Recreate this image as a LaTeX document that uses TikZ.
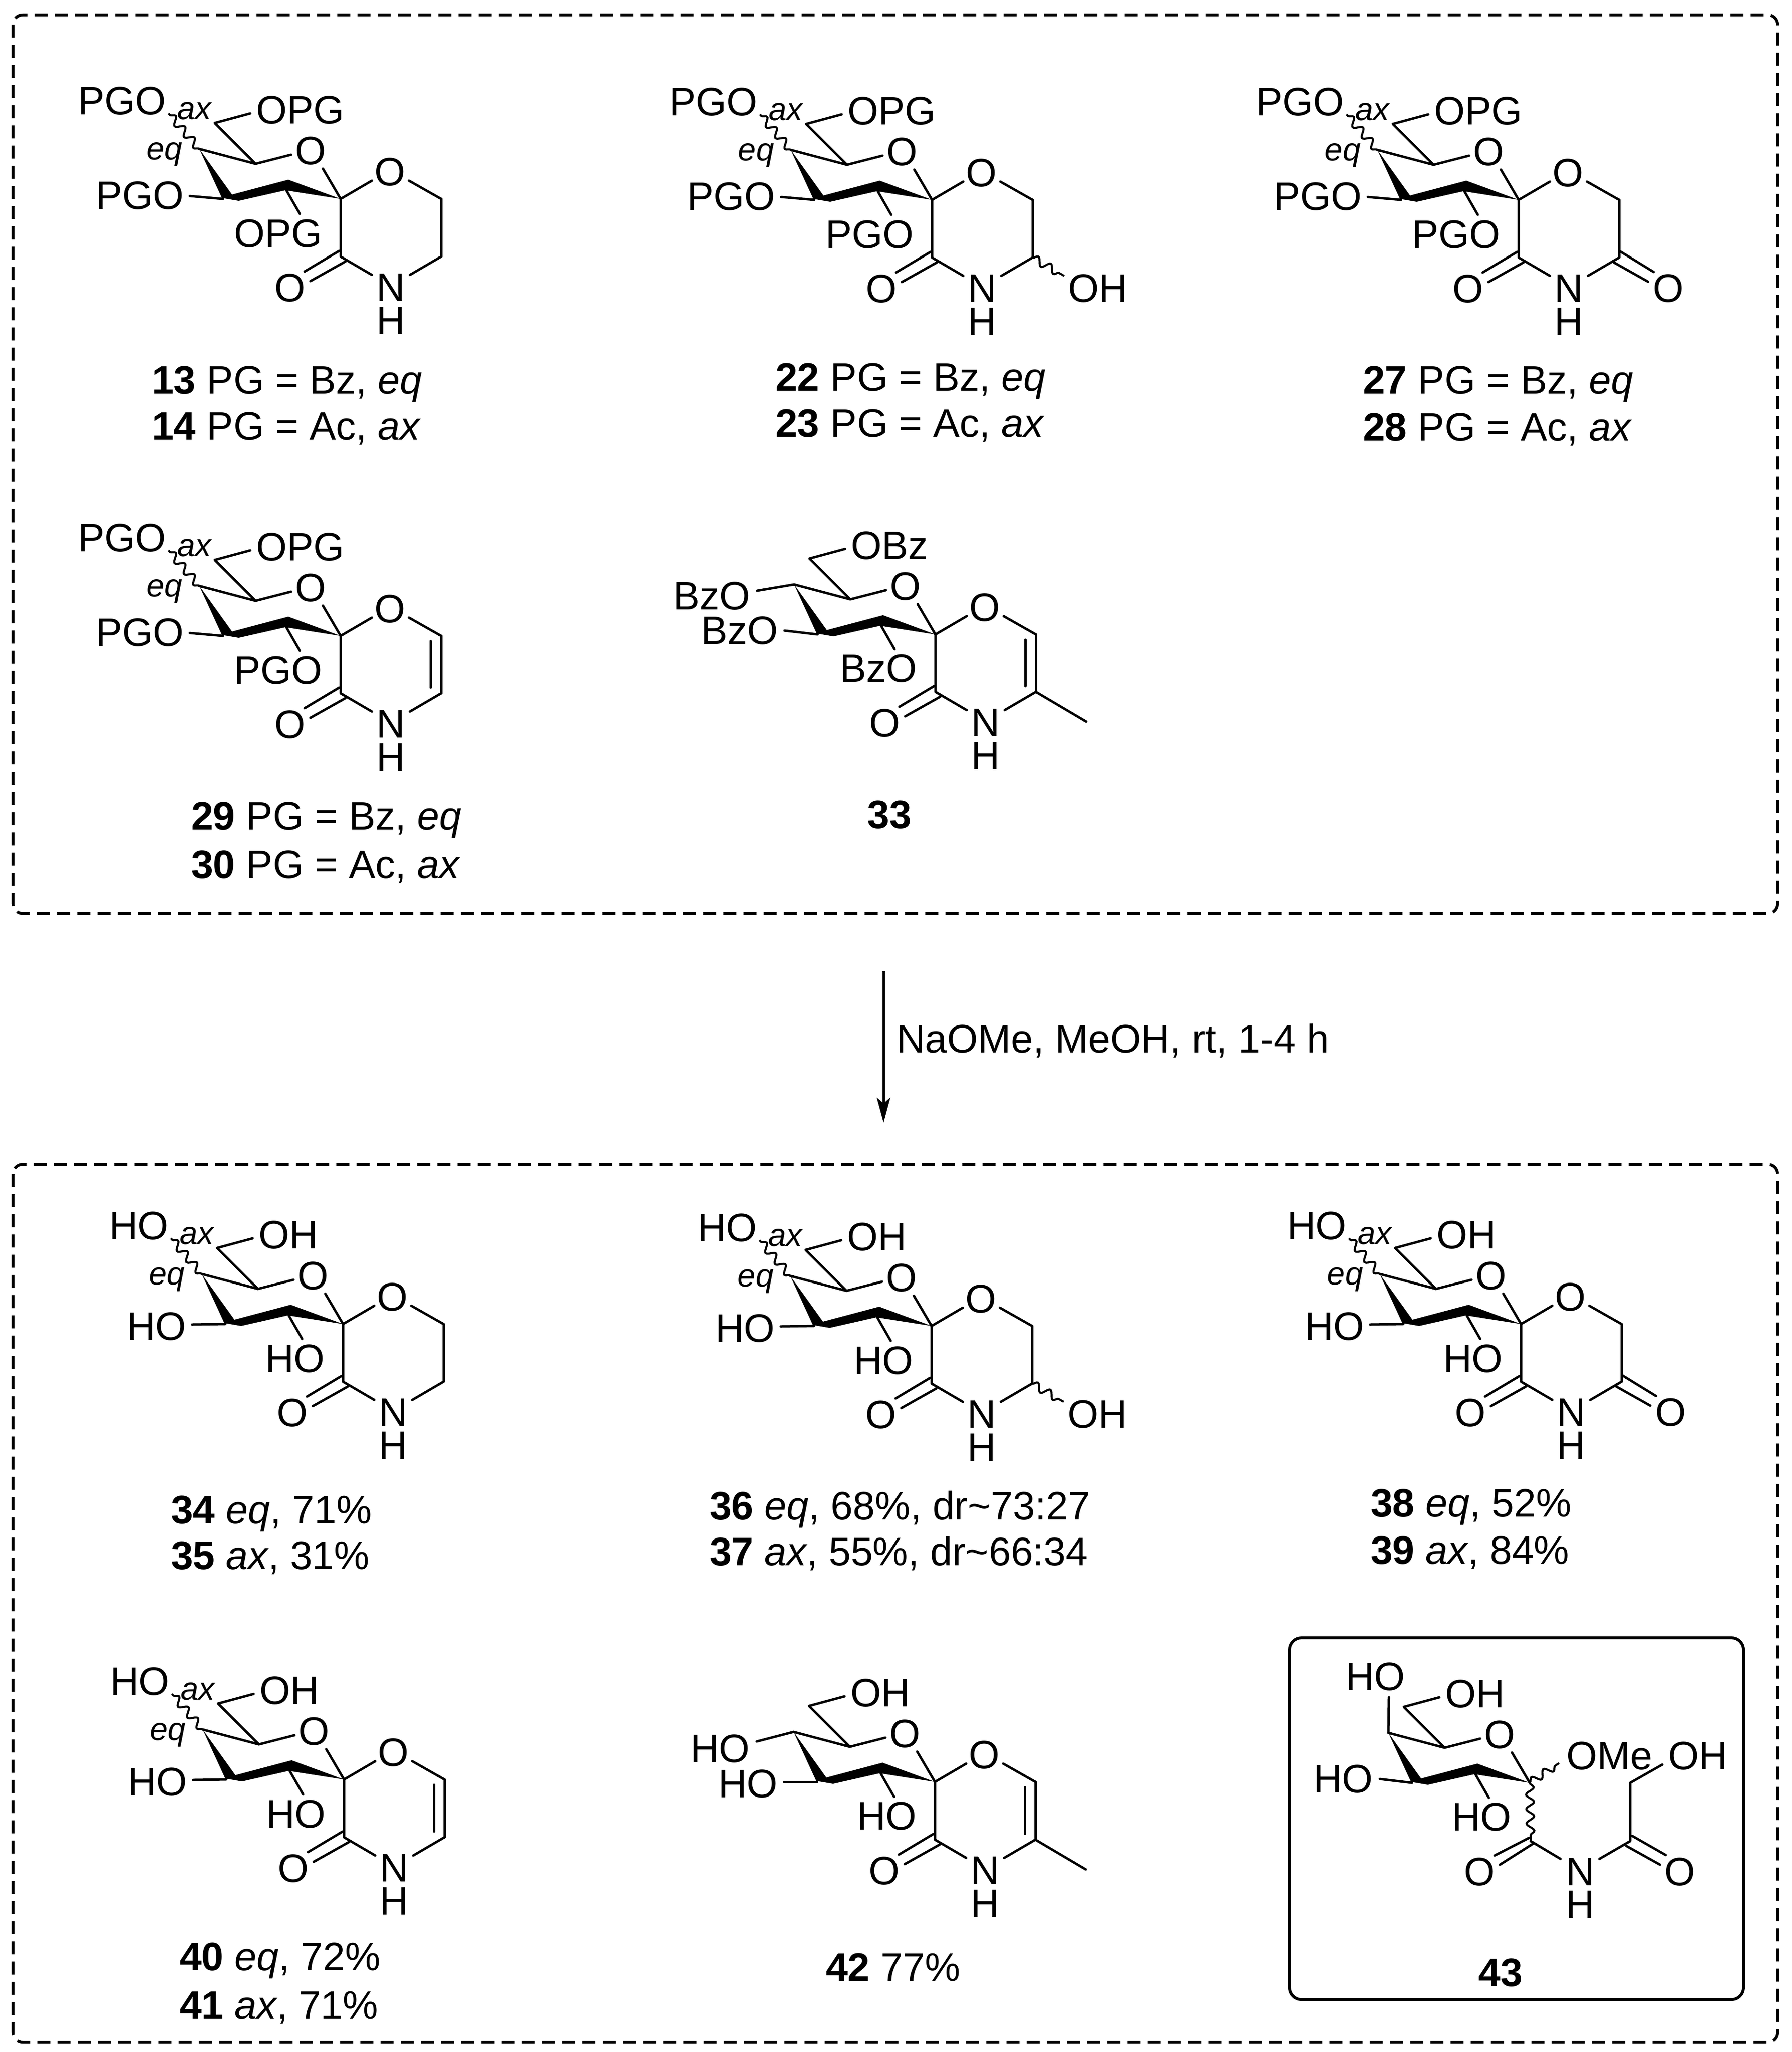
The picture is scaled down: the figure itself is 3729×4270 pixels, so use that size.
\documentclass[tikz,border=0pt]{standalone}
\usepackage{fontspec}
\setmainfont{Liberation Sans}
\usetikzlibrary{arrows.meta,decorations.pathmorphing}
\tikzset{
  bond/.style={line width=0.05cm,line cap=round,line join=round},
  wavybond/.style={line width=0.042cm,decorate,decoration={snake,amplitude=0.08cm,segment length=0.30cm}},
  atom/.style={inner sep=0pt,outer sep=0pt,font=\fontsize{23.5}{24}\selectfont},
  small/.style={inner sep=0pt,outer sep=0pt,font=\fontsize{19}{19}\selectfont\itshape},
  caption/.style={inner sep=0pt,outer sep=0pt,anchor=base west,font=\fontsize{23.5}{24}\selectfont},
  dashbox/.style={line width=0.06cm,dash pattern=on 0.27cm off 0.15cm,rounded corners=0.2cm},
  solidbox/.style={line width=0.06cm,rounded corners=0.25cm}
}
% pyranose ring shared by every structure
\newcommand{\sugarcore}{%
  \coordinate (sp) at (0,0);
  \coordinate (c5) at (-177,-73);
  \coordinate (c4) at (-294,-104);
  \coordinate (c6) at (-262,-158);
  \coordinate (o6e) at (-188,-178);
  \coordinate (o5a) at (-103,-92);
  \coordinate (o5b) at (-37,-63);
  \coordinate (w1) at (-226,-9);
  \coordinate (w2) at (-109,-40);
  \coordinate (w3) at (-115,-18);
  \coordinate (w4) at (-212,4);
  \coordinate (w5) at (-247,-2);
  \coordinate (o3s) at (-245,0);
  \coordinate (o2s) at (-113,-18);
  \coordinate (o2e) at (-85,31);
  \node[atom] (o5) at (-62,-100) {O};
  \draw[bond] (o6e)--(c6)--(c5)--(c4);
  \draw[bond] (c5)--(o5a);
  \draw[bond] (o5b)--(sp);
  \draw[bond] (o2s)--(o2e);
  \fill (c4)--(w1)--(w2)--(sp)--(w3)--(w4)--(w5)--cycle;
}
% part of the second ring: O, NH, lactam C=O
\newcommand{\lactam}{%
  \coordinate (r1a) at (65,-38);
  \coordinate (r1b) at (142,-38);
  \coordinate (r2) at (209,0);
  \coordinate (r3) at (209,120);
  \coordinate (nb) at (144,158);
  \coordinate (na) at (65,158);
  \coordinate (co) at (0,120);
  \coordinate (d1a) at (-3,108);
  \coordinate (d1b) at (-75,151);
  \coordinate (d2a) at (10,130);
  \coordinate (d2b) at (-63,171);
  \node[atom] (o1) at (103,-56) {O};
  \node[atom] (n) at (104,184) {N};
  \node[atom] (h) at (104,253) {H};
  \node[atom] (oc) at (-105,185) {O};
  \draw[bond] (sp)--(r1a);
  \draw[bond] (r1b)--(r2);
  \draw[bond] (sp)--(co)--(na);
  \draw[bond] (r3)--(nb);
  \draw[bond] (d1a)--(d1b);
  \draw[bond] (d2a)--(d2b);
}
\newcommand{\ringdouble}{%
  \coordinate (i1) at (187,11);
  \coordinate (i2) at (187,108);
  \draw[bond] (r2)--(r3);
  \draw[bond] (i1)--(i2);
}
\newcommand{\ringsingle}{\draw[bond] (r2)--(r3);}
\newcommand{\ringwavyoh}{%
  \draw[bond] (r2)--(r3);
  \coordinate (we) at (275,158);
  \node[atom,anchor=west] (oh) at (283,184) {OH};
  \draw[wavybond] (r3)--(we);
}
\newcommand{\ringketo}{%
  \draw[bond] (r2)--(r3);
  \coordinate (k1a) at (211,107);
  \coordinate (k1b) at (281,150);
  \coordinate (k2a) at (198,130);
  \coordinate (k2b) at (269,170);
  \node[atom] (ok) at (312,184) {O};
  \draw[bond] (k1a)--(k1b);
  \draw[bond] (k2a)--(k2b);
}
\newcommand{\methyl}{%
  \coordinate (me) at (314,182);
  \draw[bond] (r3)--(me);
}
% substituents: #1 top label, #2 C6 label, #3 C3 label, #4 C3 label y, #5 C3 bond y, #6 C2 label
\newcommand{\subs}[6]{%
  \coordinate (wt) at (-358,-178);
  \coordinate (o3e) at (-314,#5);
  \node[atom,anchor=east] (ltop) at (-363,-204) {#1};
  \node[small] (ax) at (-304,-183) {ax};
  \node[small] (eq) at (-366,-93) {eq};
  \node[atom,anchor=west] (l6) at (-176,-185) {#2};
  \node[atom,anchor=east] (l3) at (-326,#4) {#3};
  \node[atom,anchor=east] (l2) at (-38,72) {#6};
  \draw[wavybond] (c4)--(wt);
  \draw[bond] (o3s)--(o3e);
}
\newcommand{\subsPG}[1]{\subs{PGO}{OPG}{PGO}{-7}{-6}{#1}}
\newcommand{\subsHO}{\subs{HO}{OH}{HO}{5}{1}{HO}}
% substituents of 33 and 42: #1 C4 label, #2 C6 label, #4 C4 label y, #5 C4 bond y, #6 C3 label y, #7 C3 bond y
\newcommand{\subsplain}[7]{%
  \coordinate (o4e) at (-371,#5);
  \coordinate (o3e) at (-314,#7);
  \node[atom,anchor=east] (l4) at (-385,#4) {#1};
  \node[atom,anchor=west] (l6) at (-176,-185) {#2};
  \node[atom,anchor=east] (l3) at (-327,#6) {#1};
  \node[atom,anchor=east] (l2) at (-38,71) {#1};
  \draw[bond] (c4)--(o4e);
  \draw[bond] (o3s)--(o3e);
}
\begin{document}
\begin{tikzpicture}[x=0.01cm,y=-0.01cm]
\useasboundingbox (0,0) rectangle (3729,4270);
\coordinate (ba) at (27,31);
\coordinate (bb) at (3700,1901);
\coordinate (bc) at (27,2423);
\coordinate (bd) at (3700,4250);
\coordinate (be) at (2684,3408);
\coordinate (bf) at (3629,4161);
\draw[dashbox] (ba) rectangle (bb);
\draw[dashbox] (bc) rectangle (bd);
\draw[solidbox] (be) rectangle (bf);
% arrow
\coordinate (as) at (1839,2021);
\coordinate (ae) at (1839,2336);
\draw[line width=0.05cm,-{Stealth[length=0.52cm,width=0.28cm,inset=0.12cm]}] (as)--(ae);
\node[caption] (cond) at (1866,2190) {NaOMe, MeOH, rt, 1-4 h};
% 13/14
\begin{scope}[shift={(709,414)},name prefix=a-]
\sugarcore\lactam\ringsingle\subsPG{OPG}
\end{scope}
\node[caption] (c13) at (316,819) {\textbf{13} PG = Bz, \textit{eq}};
\node[caption] (c14) at (316,915) {\textbf{14} PG = Ac, \textit{ax}};
% 22/23
\begin{scope}[shift={(1940,416)},name prefix=b-]
\sugarcore\lactam\ringwavyoh\subsPG{PGO}
\end{scope}
\node[caption] (c22) at (1614,813) {\textbf{22} PG = Bz, \textit{eq}};
\node[caption] (c23) at (1614,909) {\textbf{23} PG = Ac, \textit{ax}};
% 27/28
\begin{scope}[shift={(3161,416)},name prefix=c-]
\sugarcore\lactam\ringketo\subsPG{PGO}
\end{scope}
\node[caption] (c27) at (2837,819) {\textbf{27} PG = Bz, \textit{eq}};
\node[caption] (c28) at (2837,917) {\textbf{28} PG = Ac, \textit{ax}};
% 29/30
\begin{scope}[shift={(709,1323)},name prefix=d-]
\sugarcore\lactam\ringdouble\subsPG{PGO}
\end{scope}
\node[caption] (c29) at (398,1726) {\textbf{29} PG = Bz, \textit{eq}};
\node[caption] (c30) at (398,1827) {\textbf{30} PG = Ac, \textit{ax}};
% 33
\begin{scope}[shift={(1947,1320)},name prefix=e-]
\sugarcore\lactam\ringdouble\methyl\subsplain{BzO}{OBz}{BzO}{-80}{-91}{-8}{-8}
\end{scope}
\node[caption,anchor=base] (c33) at (1851,1723) {\textbf{33}};
% 34/35
\begin{scope}[shift={(714,2755)},name prefix=f-]
\sugarcore\lactam\ringsingle\subsHO
\end{scope}
\node[caption] (c34) at (356,3170) {\textbf{34} \textit{eq}, 71\%};
\node[caption] (c35) at (356,3265) {\textbf{35} \textit{ax}, 31\%};
% 36/37
\begin{scope}[shift={(1939,2759)},name prefix=g-]
\sugarcore\lactam\ringwavyoh\subsHO
\end{scope}
\node[caption] (c36) at (1477,3162) {\textbf{36} \textit{eq}, 68\%, dr\textasciitilde73:27};
\node[caption] (c37) at (1477,3257) {\textbf{37} \textit{ax}, 55\%, dr\textasciitilde66:34};
% 38/39
\begin{scope}[shift={(3166,2755)},name prefix=h-]
\sugarcore\lactam\ringketo\subsHO
\end{scope}
\node[caption] (c38) at (2853,3156) {\textbf{38} \textit{eq}, 52\%};
\node[caption] (c39) at (2853,3254) {\textbf{39} \textit{ax}, 84\%};
% 40/41
\begin{scope}[shift={(716,3703)},name prefix=i-]
\sugarcore\lactam\ringdouble\subsHO
\end{scope}
\node[caption] (c40) at (374,4100) {\textbf{40} \textit{eq}, 72\%};
\node[caption] (c41) at (374,4201) {\textbf{41} \textit{ax}, 71\%};
% 42
\begin{scope}[shift={(1946,3708)},name prefix=j-]
\sugarcore\lactam\ringdouble\methyl\subsplain{HO}{OH}{HO}{-69}{-84}{4}{0}
\end{scope}
\node[caption] (c42) at (1719,4122) {\textbf{42} 77\%};
% 43
\begin{scope}[shift={(3184,3710)},name prefix=k-]
\sugarcore
\coordinate (o4e) at (-293,-178);
\coordinate (o3e) at (-312,-8);
\coordinate (wm) at (61,-41);
\coordinate (co) at (2,121);
\coordinate (na) at (64,158);
\coordinate (nb) at (145,158);
\coordinate (cp) at (209,121);
\coordinate (ch) at (209,0);
\coordinate (oe) at (276,-38);
\coordinate (d1a) at (-1,114);
\coordinate (d1b) at (-73,151);
\coordinate (d2a) at (9,125);
\coordinate (d2b) at (-62,170);
\coordinate (k1a) at (213,110);
\coordinate (k1b) at (283,150);
\coordinate (k2a) at (201,131);
\coordinate (k2b) at (271,170);
\node[atom] (l4) at (-321,-221) {HO};
\node[atom,anchor=west] (l6) at (-176,-185) {OH};
\node[atom,anchor=east] (l3) at (-326,-8) {HO};
\node[atom,anchor=east] (l2) at (-38,71) {HO};
\node[atom,anchor=west] (ome) at (76,-56) {OMe};
\node[atom,anchor=west] (ohr) at (288,-56) {OH};
\node[atom] (oc) at (-104,185) {O};
\node[atom] (ok) at (313,185) {O};
\node[atom] (n) at (105,185) {N};
\node[atom] (h) at (105,253) {H};
\draw[bond] (c4)--(o4e);
\draw[bond] (o3s)--(o3e);
\draw[wavybond] (sp)--(wm);
\draw[wavybond] (sp)--(co);
\draw[bond] (co)--(na);
\draw[bond] (nb)--(cp)--(ch)--(oe);
\draw[bond] (d1a)--(d1b);
\draw[bond] (d2a)--(d2b);
\draw[bond] (k1a)--(k1b);
\draw[bond] (k2a)--(k2b);
\end{scope}
\node[caption,anchor=base] (c43) at (3123,4133) {\textbf{43}};
\end{tikzpicture}
\end{document}
